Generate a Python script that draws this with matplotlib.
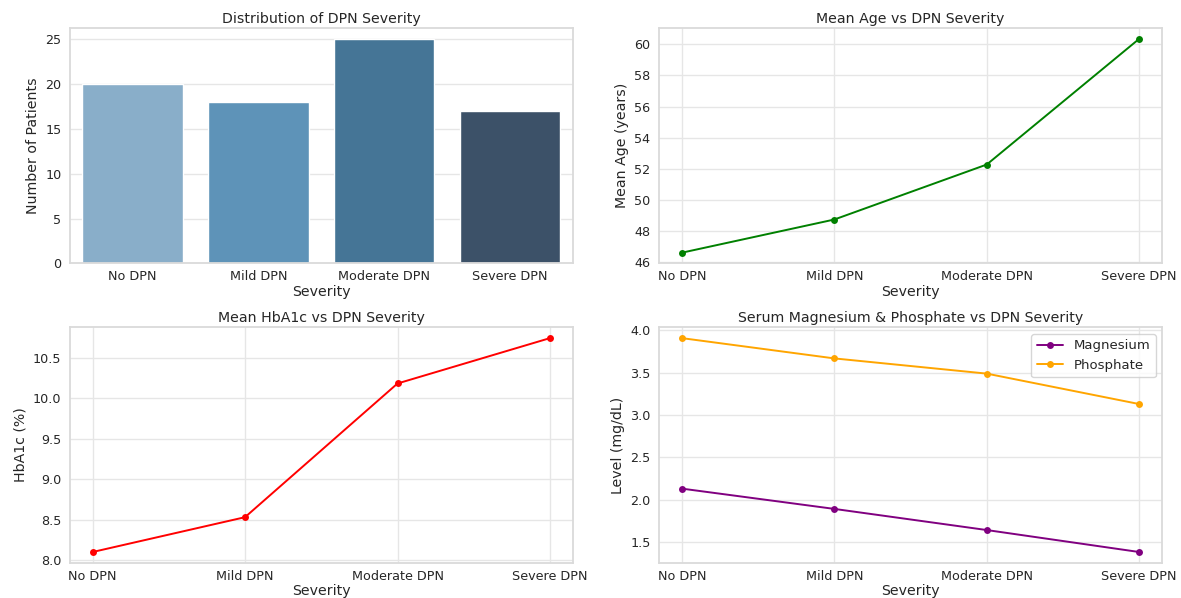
import matplotlib
matplotlib.use("Agg")
import matplotlib.pyplot as plt
import seaborn as sns

# 중증도 단계별 요약값
severity = ["No DPN", "Mild DPN", "Moderate DPN", "Severe DPN"]
patient_counts = [20, 18, 25, 17]
mean_age = [46.62, 48.75, 52.28, 60.35]
mean_hba1c = [8.10, 8.53, 10.18, 10.74]
magnesium = [2.13, 1.89, 1.64, 1.38]
phosphate = [3.91, 3.67, 3.49, 3.13]

bar_colors = ["#89aec9", "#5e93b8", "#457596", "#3c5168"]

sns.set_theme(style="whitegrid")
plt.rcParams["font.family"] = ["DejaVu Sans"]
plt.rcParams["axes.titlesize"] = 10.2
plt.rcParams["axes.labelsize"] = 10.2
plt.rcParams["xtick.labelsize"] = 9.2
plt.rcParams["ytick.labelsize"] = 9.2
plt.rcParams["axes.titlepad"] = 4
plt.rcParams["xtick.major.size"] = 0
plt.rcParams["ytick.major.size"] = 0
plt.rcParams["xtick.major.pad"] = 5
plt.rcParams["ytick.major.pad"] = 6
plt.rcParams["grid.color"] = "#e6e6e6"
plt.rcParams["axes.edgecolor"] = "#dadada"
plt.rcParams["axes.linewidth"] = 1.3

fig, axes = plt.subplots(2, 2, figsize=(11.81, 5.98), dpi=100)
fig.subplots_adjust(left=0.059, right=0.984, top=0.953, bottom=0.059,
                    wspace=0.171, hspace=0.272)

line_kw = dict(marker="o", markeredgewidth=0, markersize=5, linewidth=1.4)

# 1) 환자 수 분포
ax = axes[0, 0]
sns.barplot(x=severity, y=patient_counts, hue=severity, palette=bar_colors,
            saturation=1, legend=False, ax=ax)
ax.set_title("Distribution of DPN Severity")
ax.set_xlabel("Severity", labelpad=1)
ax.set_ylabel("Number of Patients")

# 2) 평균 나이
ax = axes[0, 1]
sns.lineplot(x=severity, y=mean_age, color="green", ax=ax, **line_kw)
ax.set_title("Mean Age vs DPN Severity")
ax.set_xlabel("Severity", labelpad=1)
ax.set_ylabel("Mean Age (years)")

# 3) 평균 HbA1c
ax = axes[1, 0]
sns.lineplot(x=severity, y=mean_hba1c, color="red", ax=ax, **line_kw)
ax.set_title("Mean HbA1c vs DPN Severity")
ax.set_xlabel("Severity", labelpad=1)
ax.set_ylabel("HbA1c (%)")

# 4) 혈청 마그네슘 / 인
ax = axes[1, 1]
sns.lineplot(x=severity, y=magnesium, color="purple", label="Magnesium",
             ax=ax, **line_kw)
sns.lineplot(x=severity, y=phosphate, color="orange", label="Phosphate",
             ax=ax, **line_kw)
ax.set_title("Serum Magnesium & Phosphate vs DPN Severity")
ax.set_xlabel("Severity", labelpad=1)
ax.set_ylabel("Level (mg/dL)")
ax.legend(loc="upper right", fontsize=9.5)

plt.savefig("out.png", dpi=100)
plt.close()
